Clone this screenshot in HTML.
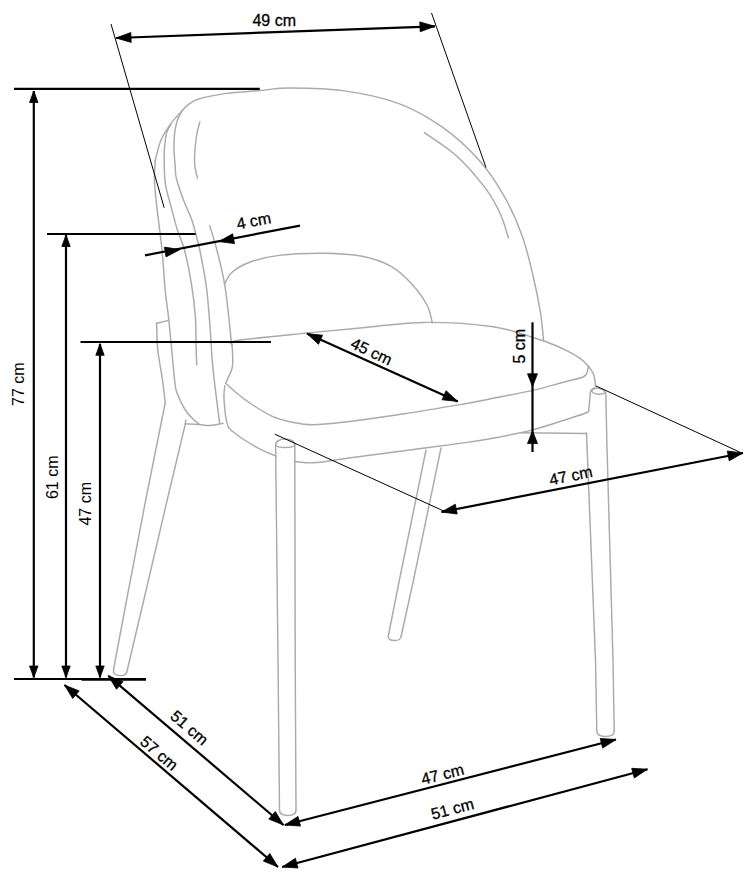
<!DOCTYPE html>
<html><head><meta charset="utf-8"><style>
html,body{margin:0;padding:0;background:#fff;}
body{width:744px;height:880px;overflow:hidden;font-family:"Liberation Sans",sans-serif;}
svg{display:block;}
</style></head><body>
<svg width="744" height="880" viewBox="0 0 744 880">
<rect width="744" height="880" fill="#fff"/>
<g fill="none" stroke="#aaaaaa" stroke-width="1.45" stroke-linecap="round" stroke-linejoin="round">
<path d="M155.2,160.3 C156.2,156.9 158.5,145.9 161.1,139.8 C163.7,133.7 167.4,128.5 170.8,123.7 C174.2,119.0 178.7,114.4 181.6,111.3 C184.5,108.2 185.1,107.0 188.0,104.9 C190.9,102.9 192.6,100.9 198.8,99.0 C205.0,97.1 214.8,95.0 225.0,93.6 C235.2,92.2 249.2,91.4 260.0,90.5 C270.8,89.6 275.9,87.9 290.0,88.0 C304.1,88.1 326.2,88.3 344.4,90.9 C362.5,93.5 382.6,97.5 398.9,103.6 C415.2,109.6 429.1,117.8 442.4,127.2 C455.7,136.6 468.4,148.3 478.7,159.8 C489.0,171.3 496.9,183.4 504.1,196.1 C511.4,208.8 517.4,222.7 522.2,236.0 C527.0,249.3 530.1,263.3 533.1,276.0 C536.1,288.7 538.6,301.4 540.4,312.2 C542.1,323.0 543.1,336.2 543.6,341.0"/><path d="M155.2,160.3 C155.1,163.9 154.2,173.8 154.5,181.8 C154.8,189.8 156.1,199.9 157.0,208.4 C157.9,216.9 159.1,224.8 160.0,232.6 C160.9,240.4 161.6,245.8 162.5,255.4 C163.4,265.0 164.2,280.0 165.2,290.3 C166.2,300.6 167.6,308.9 168.5,317.2 C169.4,325.5 169.8,329.5 170.8,340.0 C171.8,350.5 173.6,371.2 174.6,380.0 C175.6,388.8 175.2,388.0 177.0,393.0 C178.8,398.0 182.4,405.4 185.3,410.0 C188.2,414.6 192.4,418.3 194.7,420.6 C197.0,422.9 198.3,423.4 199.0,424.0"/><path d="M170.8,124.8 C170.1,126.2 167.6,129.3 166.5,133.4 C165.4,137.5 164.8,144.7 164.4,149.5 C164.0,154.3 164.0,156.2 164.2,162.0 C164.4,167.8 164.2,176.5 165.4,184.2 C166.6,191.9 169.5,200.7 171.5,208.4 C173.5,216.1 175.3,223.3 177.5,230.2 C179.7,237.1 182.2,241.1 184.5,250.0 C186.8,258.9 189.6,272.4 191.4,283.6 C193.2,294.8 194.6,307.1 195.4,317.2 C196.2,327.3 195.8,336.0 196.0,344.0 C196.2,352.0 196.6,361.5 196.7,365.0"/><path d="M182.0,110.8 C181.2,112.4 178.5,116.7 177.3,120.5 C176.1,124.3 175.2,128.6 174.6,133.4 C174.0,138.2 173.9,144.2 174.0,149.5 C174.1,154.8 174.7,160.2 175.1,165.0 C175.5,169.8 174.9,172.2 176.3,178.0 C177.7,183.8 180.9,192.9 183.5,200.0 C186.1,207.1 189.6,213.4 192.0,220.5 C194.4,227.6 196.5,236.4 198.0,242.3 C199.5,248.2 199.5,248.0 201.0,256.0 C202.5,264.0 205.2,276.5 206.8,290.3 C208.5,304.1 210.1,328.8 210.9,338.7 C211.7,348.6 211.1,344.2 211.5,350.0 C211.9,355.8 212.2,361.4 213.5,373.6 C214.8,385.8 218.6,415.0 219.6,423.3"/><path d="M199.8,122.0 C199.2,124.3 197.4,130.0 196.5,136.0 C195.6,142.0 194.7,152.3 194.5,158.0 C194.3,163.7 195.0,166.7 195.5,170.0 C196.0,173.3 197.2,176.7 197.5,178.0"/><path d="M209.7,225.6 C210.9,229.7 214.5,240.6 216.9,250.0 C219.3,259.4 222.5,272.3 224.3,282.3 C226.2,292.3 226.9,300.6 228.0,310.0 C229.1,319.4 230.3,332.0 231.0,338.7 C231.7,345.4 232.2,345.3 232.4,350.0 C232.6,354.7 233.1,362.2 232.4,366.9 C231.7,371.6 229.1,375.3 228.0,378.0 C226.9,380.7 226.0,382.2 225.6,383.0"/><path d="M224.4,284.4 C225.6,282.4 227.6,276.2 231.8,272.5 C236.0,268.8 241.7,265.1 249.6,262.2 C257.5,259.3 266.8,256.9 279.1,255.4 C291.4,253.9 309.7,253.2 323.5,253.3 C337.3,253.5 350.7,254.1 362.0,256.3 C373.3,258.5 383.1,261.9 391.5,266.6 C399.9,271.3 406.3,278.0 412.2,284.4 C418.1,290.8 423.6,298.6 427.0,305.0 C430.4,311.4 431.4,319.8 432.3,322.8"/><path d="M424.3,132.6 C429.7,136.5 446.6,146.8 456.9,156.2 C467.2,165.6 478.6,179.2 485.9,188.9 C493.2,198.6 496.8,206.2 500.5,214.3 C504.2,222.5 507.1,233.9 508.4,237.8"/><path d="M232.4,345.0 C233.3,344.2 225.5,342.5 237.7,340.5 C249.9,338.5 284.0,335.3 305.7,333.1 C327.4,330.9 348.0,329.0 367.8,327.2 C387.6,325.4 403.4,322.5 424.3,322.4 C445.2,322.3 474.4,324.0 493.2,326.7 C511.9,329.4 527.7,336.1 536.8,338.7 C545.9,341.3 543.4,340.7 548.0,342.5 C552.6,344.3 558.9,346.8 564.2,349.4 C569.5,352.0 576.0,355.6 580.0,358.4 C584.0,361.2 586.2,363.8 588.4,366.3 C590.6,368.8 592.1,371.1 593.2,373.5 C594.3,375.9 594.6,378.8 595.0,380.8 C595.4,382.8 595.3,384.8 595.4,385.6"/><path d="M225.6,383.0 C227.2,384.5 231.2,388.5 235.5,392.0 C239.8,395.5 245.2,400.0 251.3,404.0 C257.4,408.0 265.4,413.2 271.8,416.1 C278.2,419.1 283.1,420.3 290.0,421.7 C296.9,423.1 303.4,424.7 312.9,424.7 C322.4,424.7 331.9,423.5 347.1,421.7 C362.3,419.9 385.5,416.5 404.3,413.7 C423.1,410.9 446.0,407.0 460.0,404.6 C474.0,402.2 476.3,401.6 488.4,399.2 C500.5,396.8 520.1,393.3 532.7,390.4 C545.3,387.5 556.1,384.1 564.2,382.0 C572.3,379.9 577.5,379.0 581.1,377.8 C584.7,376.6 584.9,376.0 586.0,374.7 C587.1,373.4 587.4,371.3 587.8,369.9 C588.2,368.5 588.3,366.9 588.4,366.3"/><path d="M224.8,385.8 C224.7,388.0 223.6,392.8 224.0,399.0 C224.4,405.2 225.5,417.5 227.0,423.0 C228.5,428.5 228.3,427.9 233.0,431.8 C237.7,435.7 248.0,442.4 254.9,446.3 C261.8,450.2 268.4,453.0 274.3,455.4 C280.2,457.8 283.6,459.4 290.0,460.6 C296.4,461.8 303.4,463.2 312.9,462.8 C322.4,462.4 331.9,460.3 347.1,458.3 C362.3,456.3 385.5,453.2 404.3,450.7 C423.1,448.2 446.0,445.3 460.0,443.4 C474.0,441.4 476.3,441.2 488.4,439.0 C500.5,436.8 519.1,433.4 532.7,429.9 C546.3,426.4 561.0,421.1 570.0,418.2 C579.0,415.3 583.9,414.0 587.0,412.5 C590.1,411.0 588.2,412.4 588.8,409.0 C589.4,405.6 589.9,395.3 590.5,392.0 C591.1,388.7 591.5,389.9 592.2,389.2 C593.0,388.4 594.5,387.8 595.0,387.5"/><path d="M185.3,424.0 C187.6,424.1 194.7,424.2 198.8,424.5 C202.9,424.8 206.0,425.7 210.0,425.5 C214.0,425.3 220.8,423.7 223.0,423.3"/><path d="M167.8,320.6 L156.6,323.3"/><path d="M156.6,323.3 C156.8,327.8 156.8,340.6 157.8,350.0 C158.8,359.4 161.3,371.2 162.5,380.0 C163.7,388.8 164.8,399.2 165.2,403.0"/><path d="M165.2,403.0 L145.7,500.0 L126.6,600.0 L113.6,669.0"/><path d="M113.6,669 Q112.5,675 120,675.6 Q126.8,676 127.3,670"/><path d="M127.3,670.0 L143.8,600.0 L167.2,500.0 L185.3,424.0"/><path d="M185.3,424.0 L185.8,420.0"/><path d="M426.0,450.0 L399.4,580.0 L388.3,636.0"/><path d="M388.3,636 Q387.5,640.5 395,640.5 Q400.5,640.5 401.2,636"/><path d="M401.2,636.0 L413.5,580.0 L441.0,448.0"/><rect x="276.6" y="449" width="17.4" height="20" fill="#fff" stroke="none"/><path d="M275.6,445.0 L278.0,660.0 L279.5,810.0"/><path d="M279.5,810 Q279.5,815.5 288,815.5 Q296,815.5 296,810"/><path d="M296.0,810.0 L295.2,660.0 L294.8,445.0"/><path d="M275.6,445 C275.6,437 294.8,437 294.8,445"/><path d="M275.6,445 C277,448.3 293.5,448.3 294.8,445"/><path d="M586.5,433.0 L595.5,660.0 L596.8,731.0"/><path d="M596.8,731 Q597,736.5 605.5,736.5 Q614.3,736.5 614.2,731"/><path d="M614.2,731.0 L613.0,660.0 L606.8,440.0 L605.8,393.0"/><path d="M591.6,391 C593,387 603,387 605.5,393"/><path d="M591.6,391 C594,395 602,395 605.5,392.5"/><path d="M520.5,432.7 L586.5,433.5"/>
</g>
<g fill="none" stroke="#000" stroke-width="1">
<path d="M111.0,24.0 L164.2,207.8"/><path d="M431.5,13.0 L486.0,167.5"/><path d="M274.8,434.2 L447.0,512.5"/><path d="M595.6,385.8 L743.0,453.6"/>
</g>
<g fill="none" stroke="#000" stroke-width="2.2">
<path d="M116.0,38.0 L435.0,26.3"/><path d="M14.0,88.8 L259.8,88.8"/><path d="M33.8,91.0 L33.8,677.5"/><path d="M14.0,679.0 L146.0,679.0"/><path d="M47.0,234.0 L195.6,234.0"/><path d="M66.0,235.0 L66.0,677.5"/><path d="M80.5,342.0 L271.0,342.0"/><path d="M100.0,343.8 L100.0,677.5"/><path d="M81.5,679.6 L146.0,679.6"/><path d="M145.0,255.3 L300.0,225.6"/><path d="M306.9,333.6 L457.7,401.4"/><path d="M532.5,322.3 L532.5,452.0"/><path d="M441.5,512.0 L743.0,453.0"/><path d="M108.3,675.8 L283.5,825.0"/><path d="M64.5,685.0 L278.0,867.0"/><path d="M284.8,825.0 L616.0,739.5"/><path d="M282.2,867.0 L647.5,769.2"/>
</g>
<g fill="#000" stroke="#000" stroke-width="0.8" stroke-linejoin="miter">
<polygon points="116.0,38.0 130.8,32.5 131.2,42.4"/><polygon points="435.0,26.3 420.2,31.8 419.8,21.9"/><polygon points="33.8,91.0 38.0,102.5 29.5,102.5"/><polygon points="33.8,677.5 29.5,666.0 38.0,666.0"/><polygon points="66.0,235.0 70.2,246.5 61.8,246.5"/><polygon points="66.0,677.5 61.8,666.0 70.2,666.0"/><polygon points="100.0,343.8 104.2,355.3 95.8,355.3"/><polygon points="100.0,677.5 95.8,666.0 104.2,666.0"/><polygon points="180.0,249.6 166.0,256.9 164.4,247.1"/><polygon points="218.8,241.6 232.6,233.8 234.5,243.6"/><polygon points="306.9,333.6 322.6,335.2 318.5,344.3"/><polygon points="457.7,401.4 442.0,399.8 446.1,390.7"/><polygon points="532.5,386.6 527.5,373.8 537.5,373.8"/><polygon points="532.5,430.8 537.5,443.6 527.5,443.6"/><polygon points="441.5,512.0 455.3,504.2 457.2,514.0"/><polygon points="743.0,453.0 729.2,460.8 727.3,451.0"/><polygon points="108.3,675.8 123.0,681.7 116.5,689.3"/><polygon points="283.5,825.0 268.8,819.1 275.3,811.5"/><polygon points="64.5,685.0 79.2,690.9 72.7,698.5"/><polygon points="278.0,867.0 263.3,861.1 269.8,853.5"/><polygon points="284.8,825.0 298.0,816.4 300.5,826.1"/><polygon points="616.0,739.5 602.7,748.1 600.2,738.4"/><polygon points="282.2,867.0 295.4,858.3 298.0,868.0"/><polygon points="647.5,769.2 634.3,778.0 631.7,768.3"/>
</g>
<g font-family="'Liberation Sans', sans-serif" font-size="16" fill="#000" text-anchor="middle">
<text transform="translate(274.2,20.0) rotate(0)" y="5.73" stroke="#000" stroke-width="0.3">49 cm</text><text transform="translate(18.3,384.2) rotate(-90)" y="5.73" font-size="16">77 cm</text><text transform="translate(52.2,477.3) rotate(-90)" y="5.73" font-size="16">61 cm</text><text transform="translate(85.2,503.8) rotate(-90)" y="5.73" font-size="16">47 cm</text><text transform="translate(253.7,220.6) rotate(-10.8)" y="5.73" stroke="#000" stroke-width="0.3">4 cm</text><text transform="translate(371.6,351.3) rotate(25.2)" y="5.73" stroke="#000" stroke-width="0.3">45 cm</text><text transform="translate(519.6,346.2) rotate(-90)" y="5.73" stroke="#000" stroke-width="0.3">5 cm</text><text transform="translate(570.8,475.4) rotate(-11.6)" y="5.73" stroke="#000" stroke-width="0.3">47 cm</text><text transform="translate(189.6,727.6) rotate(40.5)" y="5.73" stroke="#000" stroke-width="0.3">51 cm</text><text transform="translate(159.3,753.0) rotate(40.5)" y="5.73" stroke="#000" stroke-width="0.3">57 cm</text><text transform="translate(442.4,774.0) rotate(-14.0)" y="5.73" stroke="#000" stroke-width="0.3">47 cm</text><text transform="translate(452.25,808.6) rotate(-14.8)" y="5.73" stroke="#000" stroke-width="0.3">51 cm</text>
</g>
</svg>
</body></html>
